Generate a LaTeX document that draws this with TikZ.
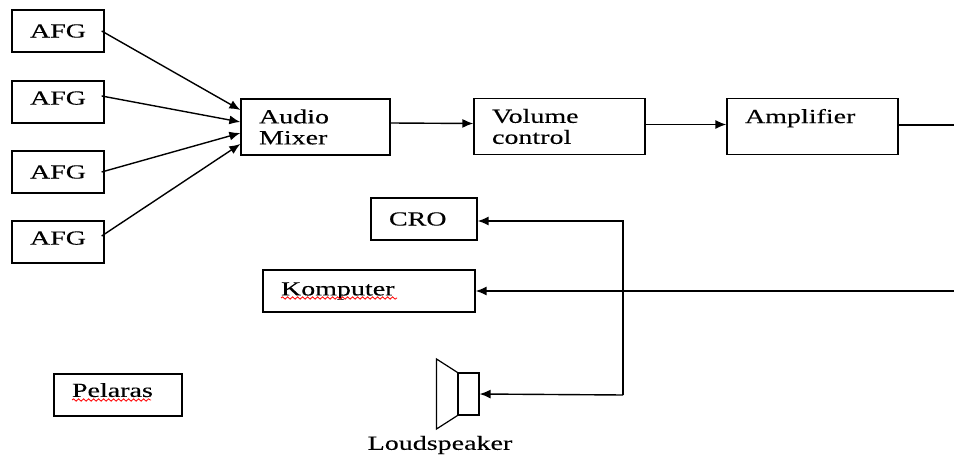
\documentclass[tikz,border=0pt]{standalone}
\usepackage{fontspec}
\setmainfont[FakeStretch=1.4,FakeBold=0.25]{Liberation Serif}
\usepackage{tikz}
\usetikzlibrary{arrows.meta,calc,decorations.pathmorphing}
\begin{document}
\begin{tikzpicture}
  [
    x=1pt, y=-1pt,
    font=\fontsize{20}{21}\selectfont,
    block/.style =
      {draw, line width=1.3pt, rectangle, align=left, inner sep=0pt, inner xsep=18pt,
       text width=#1, minimum height=42pt},
    tall/.style =
      {minimum height=56pt},
    lift/.style =
      {text depth=#1},
    link/.style =
      {draw, line width=1.4pt, -{Latex[length=11pt,width=9pt]}},
    wavy/.style =
      {draw=red, line width=0.8pt, decorate, decoration={snake, amplitude=1.2pt, segment length=5pt}}
  ]
  \useasboundingbox (0,0) rectangle (954,457);

  \node [block=56pt] at ( 58, 31)  (a1) {AFG};
  \node [block=56pt, lift=8pt] at ( 58,102)  (a2) {AFG};
  \node [block=56pt] at ( 58,172)  (a3) {AFG};
  \node [block=56pt, lift=8pt] at ( 58,242)  (a4) {AFG};
  \node [block=113pt, tall] at (315.5,127)  (m) {Audio\\Mixer};
  \node [block=135pt, tall] at (559.5,126.5)  (v) {Volume\\control};
  \node [block=135pt, tall] at (812.5,126.5)  (p) {Amplifier\\~};
  \node [block=70pt] at (424,219)  (c) {CRO};
  \node [block=176pt] at (369,291)  (k) {Komputer};
  \node [block=92pt, lift=10pt] at (118,395)  (r) {Pelaras};

  \node [draw, line width=1.2pt, rectangle, minimum width=21pt, minimum height=42pt, inner sep=0pt]
    at (468.5,394) (s) {};
  \node at (440,445) (l) {Loudspeaker};
  \draw [line width=1.2pt] (s.north west) -- (436.5,359) -- (436.5,429) -- (s.south west);

  \coordinate (j) at (623,395);
  \coordinate (o1) at (954,125);
  \coordinate (o2) at (954,291);

  \draw[link] ($(a1.east)+(-3,0)$) -- ($(m.west)-(0,17)$);
  \draw[link] ($(a2.east)+(-3,-6)$) -- ($(m.west)-(0,5)$);
  \draw[link] ($(a3.east)+(-3,0)$) -- ($(m.west)+(0,6)$);
  \draw[link] ($(a4.east)+(-3,-6)$) -- ($(m.west)+(0,17)$);

  \draw[link] ($(m.east)-(0,4)$) -- ($(v.west)-(0,3)$);
  \draw[link] ($(v.east)-(0,2)$) -- ($(p.west)-(0,2)$);
  \draw[line width=1.2pt] ($(p.east)-(0,1.5)$) -- (o1);

  \draw[link] (j) -- (s.east);
  \draw[link] (j) |- ($(c.east)+(0,2)$);
  \draw[link] (o2) -- (k.east);

  \draw[wavy] (281,298) -- (397,298);
  \draw[wavy] (72,400) -- (151,400);
\end{tikzpicture}
\end{document}
